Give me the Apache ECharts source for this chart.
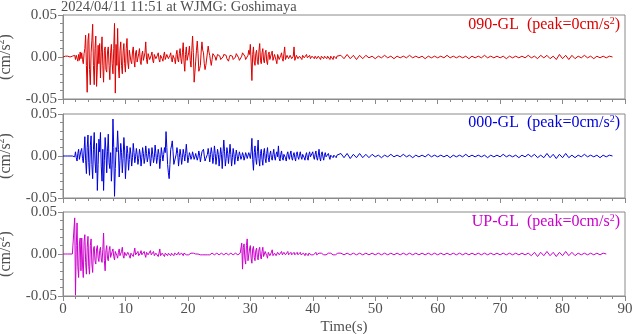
<!DOCTYPE html>
<html><head><meta charset="utf-8">
<script src="https://cdn.jsdelivr.net/npm/echarts@6/dist/echarts.min.js"></script>
<style>html,body{margin:0;padding:0;background:#fff}#c{width:633px;height:334px}</style>
</head><body><div id="c"></div>
<script>
// Sample grid: head 0..44 s every 0.125 s, tail 44.5..88 s every 0.5 s. Values in 0.001 cm/s^2.
const HEAD_T0 = 0, HEAD_DT = 0.125;
const TAIL_T0 = 44.5, TAIL_DT = 0.5;
const UNIT = 0.001;

const titleText = '2024/04/11 11:51 at WJMG: Goshimaya';
const channelNames = ['090-GL', '000-GL', 'UP-GL'];
const channelPeaks = ['0', '0', '0'];
const channelColors = ['#dd0000', '#0000dd', '#cc00cc'];
const xTicks = [0, 90, 10];
const yTicks = [-0.05, 0.05, 0.05];

const ewHead = [
 0,0,0,1,0,0,1,0, 0,0,-1,0,1,0,-1,2, -3,2,4,-5,3,-4,6,-2, 5,-3,-8,4,10,26,-10,-42,
 20,28,-15,-33,5,20,39,-10, -33,10,25,-35,-12,14,-8,16, -25,5,24,-10,-30,8,12,-15,
 -18,6,12,-10,-27,5,15,-8, -20,10,40,-43,15,-10,34,-12, -25,8,18,-10,-20,6,16,-8,
 -18,10,22,-6,-14,8,10,-5, -8,6,12,-4,-12,5,8,-6, -8,4,10,-5,-9,3,7,-4,
 -6,5,18,-3,-8,4,6,-3, -5,2,6,-4,-7,3,5,-2, -4,2,5,-3,-6,2,4,-2,
 -5,2,6,-3,-4,3,5,-2, -4,2,5,-3,-6,2,4,-3, -8,3,8,-3,-6,4,10,-2,
 -8,5,17,-5,-17,3,12,-4, -6,5,13,-4,-12,8,25,5, -30,-18,-5,8,19,4,-17,-14,
 -10,6,18,8,5,-8,-15,-10, -8,5,13,6,2,-5,-10,-3, 4,5,5,0,-4,-2,3,2,
 4,1,-3,-4,-4,0,3,2, 5,2,-2,-4,-5,-1,2,3, 4,1,-3,-4,-4,0,4,3,
 3,-1,-4,-3,-3,1,5,3, 6,1,-3,-4,-4,2,8,3, 15,-5,-28,3,12,-6,-10,4,
 8,-5,-9,7,16,-4,-8,5, 10,-4,-7,5,8,-5,-9,3, 6,-3,-5,4,7,-4,-6,3,
 5,-4,-8,3,5,-3,-4,2, 5,-2,-5,4,12,-3,-4,2, 4,-2,-4,2,3,-2,-3,1,
 12,-4,-3,2,3,-2,-3,1, 3,-1,-3,2,4,-1,-2,1, 3,-1,-3,1,2,-2,-3,1,
 3,-1,-2,1,3,-2,-3,1, 2,-1,-3,1,3,-1,-2,1, 3,-1,-2,1,2,-1,-3,1,
 2,-1,-3,1,3,-1,-2,1, 2
];
const ewTail = [
 2,-2,3,-2,2,-3,2,-2,2,-1,
 1,-2,1,-1,2,-1,1,-2,1,-1,1,-1,2,-1,1,-1,1,-2,1,-1,1,-1,
 1,-1,2,-1,1,-1,1,-1,1,-2,1,-1,1,-1,2,-1,1,-1,1,-1,1,-2,1,-1,1,-1,1,-1,2,-1,
 1,-2,2,-1,2,-2,1,-3,3,-2,2,-3,2,-2,1,-1,2,-1,1,-2,1,-1,1,-1,1,0
];

const nsHead = [
 0,0,0,0,0,0,0,0, 0,0,0,0,0,0,0,-1, 5,-2,-6,3,8,-4,-5,6, 9,-3,-8,6,23,-5,-21,10,
 25,-8,-23,12,24,-10,-27,8, 28,-6,-20,15,-41,-10,20,5, 28,-12,-30,8,-41,-5,22,6,
 -20,5,26,-8,-15,4,-30,-10, 44,10,-48,-15,10,5,30,8, -25,-5,15,4,-20,-3,22,6,
 -27,-6,12,3,-17,-4,10,2, -12,-2,15,4,-8,-1,9,2, -10,-3,8,2,-12,-2,10,3,
 -9,-2,12,3,-7,-1,9,2, -12,-3,10,2,-8,-2,13,3, -9,-2,8,2,-15,-3,10,2,
 -6,2,10,4,29,10,-10,-20, -27,-10,8,12,18,5,-10,-6, -8,2,10,3,-12,-2,8,1,
 -10,-2,8,2,-6,3,14,2, -8,-2,4,1,-4,-1,5,1, -4,-1,3,1,-5,-1,6,1,
 -7,-1,5,6,8,0,-6,-3, -5,2,9,2,-7,2,10,3, -9,-2,12,3,-10,-1,8,2,
 -12,-2,10,2,-15,3,19,5, -12,-3,10,3,-9,2,14,2, -12,-2,9,2,-10,-1,7,1,
 -6,-1,5,1,-4,-1,4,1, -5,-1,4,1,-3,-1,4,1, -3,5,21,-4,-17,4,12,-3,
 -10,5,19,-3,-12,3,8,-4, -11,4,9,-3,-8,3,10,-2, -7,2,6,-2,-5,2,8,-1,
 -5,2,5,-1,12,-3,-6,2, 6,-2,-5,2,4,-2,-6,2, 5,-1,-4,2,6,-2,-5,1,
 4,-2,-6,2,5,-1,-4,1, 5,-1,-4,2,4,-2,-5,1, 4,-2,-5,2,5,-1,-3,1,
 5,-1,-4,2,6,-2,-5,1, 8,-2,-6,2,5,-1,-5,1, 4,-1,-3,1,3,-1,-4,1,
 3,-1,-2,1,3,-1,-2,1, 2
];
const nsTail = [
 3,-2,3,-3,2,-2,3,-2,2,-2,
 2,-1,1,-2,1,-1,2,-1,1,-1,2,-1,1,-2,1,-1,1,-1,2,-1,1,-1,
 1,-1,1,-2,1,-1,1,-1,2,-1,1,-1,1,-1,1,-2,1,-1,1,-1,2,-1,1,-1,1,-2,1,-1,2,-1,
 2,-2,1,-2,3,-2,2,-3,2,-2,3,-2,1,-2,1,-1,2,-1,1,-1,1,-2,1,-1,1,0
];

const udHead = [
 0,0,0,0,0,0,0,0, 0,0,0,0,0,0,0,43, -49,10,37,-15,-28,12,19,-20, 19,-12,-28,15,23,-10,-24,8,
 21,-15,-24,10,18,-12,-22,6, 9,-8,-12,6,10,-5,-9,4, 8,-6,-10,5,25,-8,-20,4,
 10,-5,-8,4,9,-4,-6,3, 6,-3,-7,3,5,-2,-5,2, 6,-2,-4,3,8,-2,-5,2,
 4,-2,-4,2,3,-2,-5,1, 3,-1,-3,2,7,-1,-3,1, 3,-2,-3,1,4,-1,-3,1,
 3,-1,-4,2,3,-1,-3,1, 4,-1,-3,1,3,-2,-4,1, 3,-1,-3,1,6,-2,-3,1,
 3,-1,-3,1,3,-1,-2,1, 2,-1,-2,1,2,-1,-2,1, 2,-1,-1,1,2,-1,-2,1,
 1,-1,-2,1,2,-1,-1,1, 1,-1,1,-1,1,0,-1,1, 1,-1,0,1,-1,0,1,-1,
 -1,0,1,-1,1,0,-1,1, 1,-1,1,0,-1,1,-1,1, -1,1,-1,1,-1,1,-1,1,
 -1,1,-1,1,-1,1,-1,1, -1,1,-1,1,-1,1,-1,1, -1,1,-1,1,-1,1,-1,1,
 -1,1,-1,1,-1,13,-18,8, 12,-6,-12,10,18,-8,-10,6, 10,-5,-11,6,9,-4,-8,4,
 7,-4,-7,5,8,-3,-6,3, 8,-3,-5,3,5,-2,-5,2, 4,-2,-4,2,5,-2,-3,1,
 3,-2,-4,2,3,-1,-3,1, 3,-1,-3,2,3,-1,-2,1, 3,-1,-2,1,2,-1,-3,1,
 2,-1,-1,1,2,-1,-2,1, 2,-1,-1,1,1,-1,-2,1, 1,-1,-2,1,1,-1,-1,1,
 1,-1,-1,1,2,-1,-1,1, 1,-1,-1,1,1,-1,-1,1, 1,-1,-1,1,1,-1,-1,1,
 1,-1,-1,1,1,-1,-1,1, 1
];
const udTail = [
 1,-1,1,-1,1,-1,1,-1,1,-1,
 1,-1,1,-1,1,-1,1,-1,1,-1,1,-1,1,-1,1,-1,1,-1,1,-1,1,-1,
 1,-1,1,-1,1,-1,1,-1,1,-1,1,-1,1,-1,1,-1,1,-1,1,-1,1,-1,1,-1,1,-1,1,-1,
 1,-2,2,-3,2,-2,3,-2,2,-3,2,-2,3,-2,2,-2,1,-1,1,-1,1,-1,1,-1,1,0
];

function toSeries(head, tail) {
  const out = [];
  head.forEach((v, i) => out.push([HEAD_T0 + i * HEAD_DT, v * UNIT]));
  tail.forEach((v, i) => out.push([TAIL_T0 + i * TAIL_DT, v * UNIT]));
  return out;
}
const traces = [toSeries(ewHead, ewTail), toSeries(nsHead, nsTail), toSeries(udHead, udTail)];

const FONT = 'Liberation Serif';
const GRAY = '#505050';
const AX = '#8a8a8a';
const tops = [15, 114, 212];
const labelTops = [16, 114, 213];

const chart = echarts.init(document.getElementById('c'), null, {renderer: 'canvas'});
const option = {
  animation: false,
  backgroundColor: '#fff',
  title: [{
    text: titleText, left: 61, top: -1, padding: 0,
    textStyle: {fontFamily: FONT, fontSize: 14.5, fontWeight: 'normal', color: GRAY, lineHeight: 16}
  }].concat(channelNames.map((n, i) => ({
    text: n + '  (peak=' + channelPeaks[i] + 'cm/s{sup|2})',
    right: 13, top: labelTops[i], padding: 0,
    textStyle: {fontFamily: FONT, fontSize: 16, fontWeight: 'normal', color: channelColors[i], lineHeight: 18,
      rich: {sup: {fontFamily: FONT, fontSize: 10, color: channelColors[i], verticalAlign: 'top', lineHeight: 10}}}
  }))),
  grid: tops.map(t => ({left: 63, top: t, width: 562, height: 84, show: true, borderColor: AX, borderWidth: 1,
    outerBoundsMode: 'none', containLabel: false})),
  xAxis: tops.map((t, i) => ({
    type: 'value', gridIndex: i, min: xTicks[0], max: xTicks[1], interval: xTicks[2],
    axisLine: {onZero: false, lineStyle: {color: AX}},
    axisTick: {show: true, inside: false, length: 5, lineStyle: {color: AX}},
    minorTick: {show: true, splitNumber: 5, length: 3, lineStyle: {color: AX}},
    splitLine: {show: false},
    axisLabel: {show: i === 2, margin: 6, fontFamily: FONT, fontSize: 15, color: GRAY},
    name: i === 2 ? 'Time(s)' : '', nameLocation: 'middle', nameGap: 24,
    nameTextStyle: {fontFamily: FONT, fontSize: 15, color: GRAY}
  })),
  yAxis: tops.map((t, i) => ({
    type: 'value', gridIndex: i, min: yTicks[0], max: yTicks[1], interval: yTicks[2],
    axisLine: {show: true, lineStyle: {color: AX}},
    axisTick: {show: true, inside: false, length: 5, lineStyle: {color: AX}},
    minorTick: {show: true, splitNumber: 5, length: 3, lineStyle: {color: AX}},
    splitLine: {show: false},
    axisLabel: {margin: 6, fontFamily: FONT, fontSize: 15, color: GRAY,
      formatter: v => Math.abs(v) < 1e-9 ? '0.00' : v.toFixed(2)},
    name: '(cm/s{sup|2})', nameLocation: 'middle', nameGap: 44, nameRotate: 90,
    nameTextStyle: {fontFamily: FONT, fontSize: 16, color: GRAY, lineHeight: 18,
      rich: {sup: {fontFamily: FONT, fontSize: 10, color: GRAY, verticalAlign: 'top', lineHeight: 10}}}
  })),
  series: traces.map((d, i) => ({
    type: 'line', xAxisIndex: i, yAxisIndex: i, data: d, showSymbol: false, symbol: 'none',
    sampling: null, clip: true,
    lineStyle: {color: channelColors[i], width: 1}
  }))
};
chart.setOption(option);
</script></body></html>
